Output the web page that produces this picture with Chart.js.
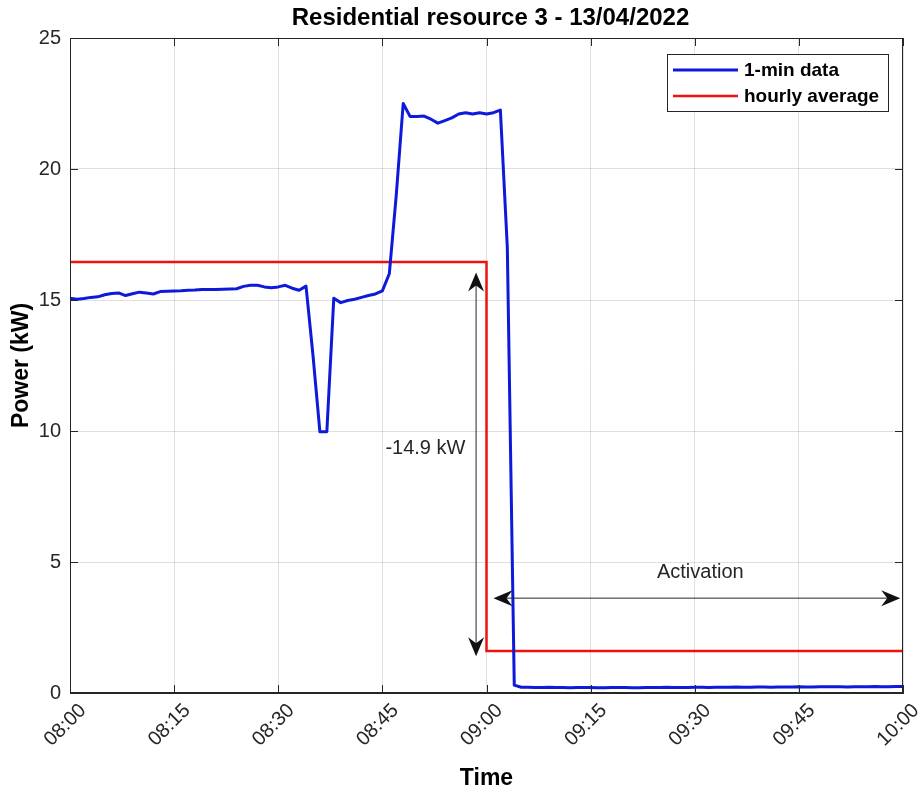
<!DOCTYPE html>
<html>
<head>
<meta charset="utf-8">
<script src="https://cdn.jsdelivr.net/npm/chart.js@4.4.0/dist/chart.umd.min.js"></script>
<style>
  html, body { margin: 0; padding: 0; background: #fff; }
</style>
</head>
<body>
<canvas id="myChart" width="921" height="795"></canvas>
<script>
// x values are minutes after 08:00, one sample per minute
const tickLabels = ['08:00', '08:15', '08:30', '08:45', '09:00', '09:15', '09:30', '09:45', '10:00'];
const tickMinutes = [0, 15, 30, 45, 60, 75, 90, 105, 120];

const oneMinData = [
    15.07, 15.03, 15.06, 15.10, 15.12, 15.20, 15.25, 15.27, 15.17, 15.24,
    15.30, 15.27, 15.23, 15.32, 15.33, 15.34, 15.35, 15.37, 15.38, 15.40,
    15.40, 15.40, 15.41, 15.42, 15.43, 15.52, 15.56, 15.56, 15.50, 15.47,
    15.50, 15.56, 15.45, 15.37, 15.53, 12.90, 9.97, 9.97, 15.07, 14.90,
    14.98, 15.03, 15.10, 15.17, 15.23, 15.35, 16.00, 19.00, 22.50, 22.00,
    22.00, 22.02, 21.90, 21.75, 21.85, 21.95, 22.10, 22.15, 22.10, 22.15,
    22.10, 22.15, 22.25, 17.00, 0.30, 0.22, 0.22, 0.21, 0.21, 0.22,
    0.21, 0.21, 0.20, 0.21, 0.21, 0.21, 0.20, 0.20, 0.21, 0.21,
    0.21, 0.20, 0.20, 0.21, 0.21, 0.21, 0.22, 0.21, 0.21, 0.21,
    0.22, 0.22, 0.21, 0.22, 0.22, 0.22, 0.23, 0.22, 0.22, 0.23,
    0.23, 0.22, 0.23, 0.23, 0.23, 0.24, 0.23, 0.23, 0.24, 0.24,
    0.24, 0.24, 0.23, 0.24, 0.24, 0.24, 0.25, 0.24, 0.24, 0.25, 0.25
];

// hourly average, drawn as a step (vertical at 09:00)
const hourlyMinutes = [0, 60, 60, 120];
const hourlyAverage = [16.45, 16.45, 1.6, 1.6];

// annotations (minutes, kW)
const deltaArrow = {x: 58.5, from: 16.05, to: 1.4, text: '-14.9 kW', textX: 51.2, textY: 9.35};
const activationArrow = {y: 3.62, from: 61.0, to: 119.6, text: 'Activation', textX: 90.8, textY: 4.6};

const FONT = '"Liberation Sans", Arial, Helvetica, sans-serif';
const TEXT = '#262626';
const GRID = 'rgba(38,38,38,0.15)';

function arrowHead(ctx, tipX, tipY, dx, dy) {
    const len = 19, half = 8, back = 6;
    const px = -dy, py = dx;
    const bx = tipX - dx * len, by = tipY - dy * len;
    ctx.beginPath();
    ctx.moveTo(tipX, tipY);
    ctx.lineTo(bx + px * half, by + py * half);
    ctx.lineTo(tipX - dx * (len - back), tipY - dy * (len - back));
    ctx.lineTo(bx - px * half, by - py * half);
    ctx.closePath();
    ctx.fill();
}

const decorations = {
    id: 'decorations',
    afterDatasetsDraw(chart) {
        const {ctx, chartArea: a, scales: {x, y}} = chart;
        ctx.save();

        // axes box + inward ticks
        ctx.strokeStyle = TEXT;
        ctx.lineWidth = 1;
        ctx.strokeRect(a.left + 0.5, a.top + 0.5, a.right - a.left - 1, a.bottom - a.top - 1);
        ctx.beginPath();
        tickMinutes.forEach(m => {
            const px = Math.round(x.getPixelForValue(m)) + 0.5;
            ctx.moveTo(px, a.bottom); ctx.lineTo(px, a.bottom - 8);
            ctx.moveTo(px, a.top); ctx.lineTo(px, a.top + 8);
        });
        y.ticks.forEach(t => {
            const py = Math.round(y.getPixelForValue(t.value)) + 0.5;
            ctx.moveTo(a.left, py); ctx.lineTo(a.left + 8, py);
            ctx.moveTo(a.right, py); ctx.lineTo(a.right - 8, py);
        });
        ctx.stroke();

        // title
        ctx.fillStyle = '#000';
        ctx.font = 'bold 24px ' + FONT;
        ctx.textAlign = 'center';
        ctx.textBaseline = 'middle';
        ctx.fillText('Residential resource 3 - 13/04/2022', (a.left + a.right) / 2 + 4, 18);

        // arrows
        ctx.strokeStyle = TEXT;
        ctx.fillStyle = '#111';
        ctx.lineWidth = 1;
        const ax = x.getPixelForValue(deltaArrow.x);
        const ay1 = y.getPixelForValue(deltaArrow.from);
        const ay2 = y.getPixelForValue(deltaArrow.to);
        ctx.beginPath(); ctx.moveTo(ax, ay1 + 10); ctx.lineTo(ax, ay2 - 10); ctx.stroke();
        arrowHead(ctx, ax, ay1, 0, -1);
        arrowHead(ctx, ax, ay2, 0, 1);

        const hy = y.getPixelForValue(activationArrow.y);
        const hx1 = x.getPixelForValue(activationArrow.from);
        const hx2 = x.getPixelForValue(activationArrow.to);
        ctx.beginPath(); ctx.moveTo(hx1 + 10, hy); ctx.lineTo(hx2 - 10, hy); ctx.stroke();
        arrowHead(ctx, hx1, hy, -1, 0);
        arrowHead(ctx, hx2, hy, 1, 0);

        ctx.fillStyle = TEXT;
        ctx.font = '20px ' + FONT;
        ctx.fillText(deltaArrow.text, x.getPixelForValue(deltaArrow.textX), y.getPixelForValue(deltaArrow.textY));
        ctx.fillText(activationArrow.text, x.getPixelForValue(activationArrow.textX), y.getPixelForValue(activationArrow.textY));

        // legend
        const lx = a.right - 236, ly = a.top + 16, lw = 221, lh = 57;
        ctx.fillStyle = '#fff';
        ctx.fillRect(lx, ly, lw, lh);
        ctx.strokeStyle = TEXT;
        ctx.strokeRect(lx + 0.5, ly + 0.5, lw, lh);
        ctx.font = 'bold 19px ' + FONT;
        ctx.textAlign = 'left';
        chart.data.datasets.forEach((ds, i) => {
            const rowY = ly + 16 + i * 26;
            ctx.strokeStyle = ds.borderColor;
            ctx.lineWidth = ds.borderWidth;
            ctx.beginPath(); ctx.moveTo(lx + 6, rowY); ctx.lineTo(lx + 71, rowY); ctx.stroke();
            ctx.fillStyle = '#000';
            ctx.fillText(ds.label, lx + 77, rowY + 1);
        });

        ctx.restore();
    }
};

const ctx = document.getElementById('myChart').getContext('2d');
new Chart(ctx, {
    type: 'line',
    data: {
        datasets: [
            {
                label: '1-min data',
                data: oneMinData.map((v, i) => ({x: i, y: v})),
                borderColor: '#0d1ad9',
                borderWidth: 3,
                pointRadius: 0,
                tension: 0,
                borderJoinStyle: 'round'
            },
            {
                label: 'hourly average',
                data: hourlyAverage.map((v, i) => ({x: hourlyMinutes[i], y: v})),
                borderColor: '#f01010',
                borderWidth: 2.5,
                pointRadius: 0,
                tension: 0
            }
        ]
    },
    options: {
        responsive: false,
        animation: false,
        layout: {padding: {left: 0, right: 18, top: 38, bottom: 0}},
        plugins: {
            legend: {display: false},
            tooltip: {enabled: false}
        },
        scales: {
            x: {
                type: 'linear',
                min: 0,
                max: 120,
                afterBuildTicks: s => { s.ticks = tickMinutes.map(m => ({value: m})); },
                afterFit: s => { s.height = 102; s.paddingLeft = 0; s.paddingRight = 0; },
                ticks: {
                    callback: (v, i) => tickLabels[i],
                    autoSkip: false,
                    maxRotation: 45,
                    minRotation: 45,
                    padding: 6,
                    labelOffset: 13,
                    color: TEXT,
                    font: {family: FONT, size: 20}
                },
                grid: {color: GRID, drawTicks: false},
                border: {color: TEXT, width: 1},
                title: {
                    display: true,
                    text: 'Time',
                    color: '#000',
                    font: {family: FONT, size: 23, weight: 'bold'},
                    padding: {top: 0, bottom: 3}
                }
            },
            y: {
                min: 0,
                max: 25,
                afterFit: s => { s.width = 70; },
                ticks: {
                    stepSize: 5,
                    padding: 9,
                    color: TEXT,
                    font: {family: FONT, size: 20}
                },
                grid: {color: GRID, drawTicks: false},
                border: {color: TEXT, width: 1},
                title: {
                    display: true,
                    text: 'Power (kW)',
                    color: '#000',
                    font: {family: FONT, size: 23, weight: 'bold'},
                    padding: {top: 8, bottom: 0}
                }
            }
        }
    },
    plugins: [decorations]
});
</script>
</body>
</html>
